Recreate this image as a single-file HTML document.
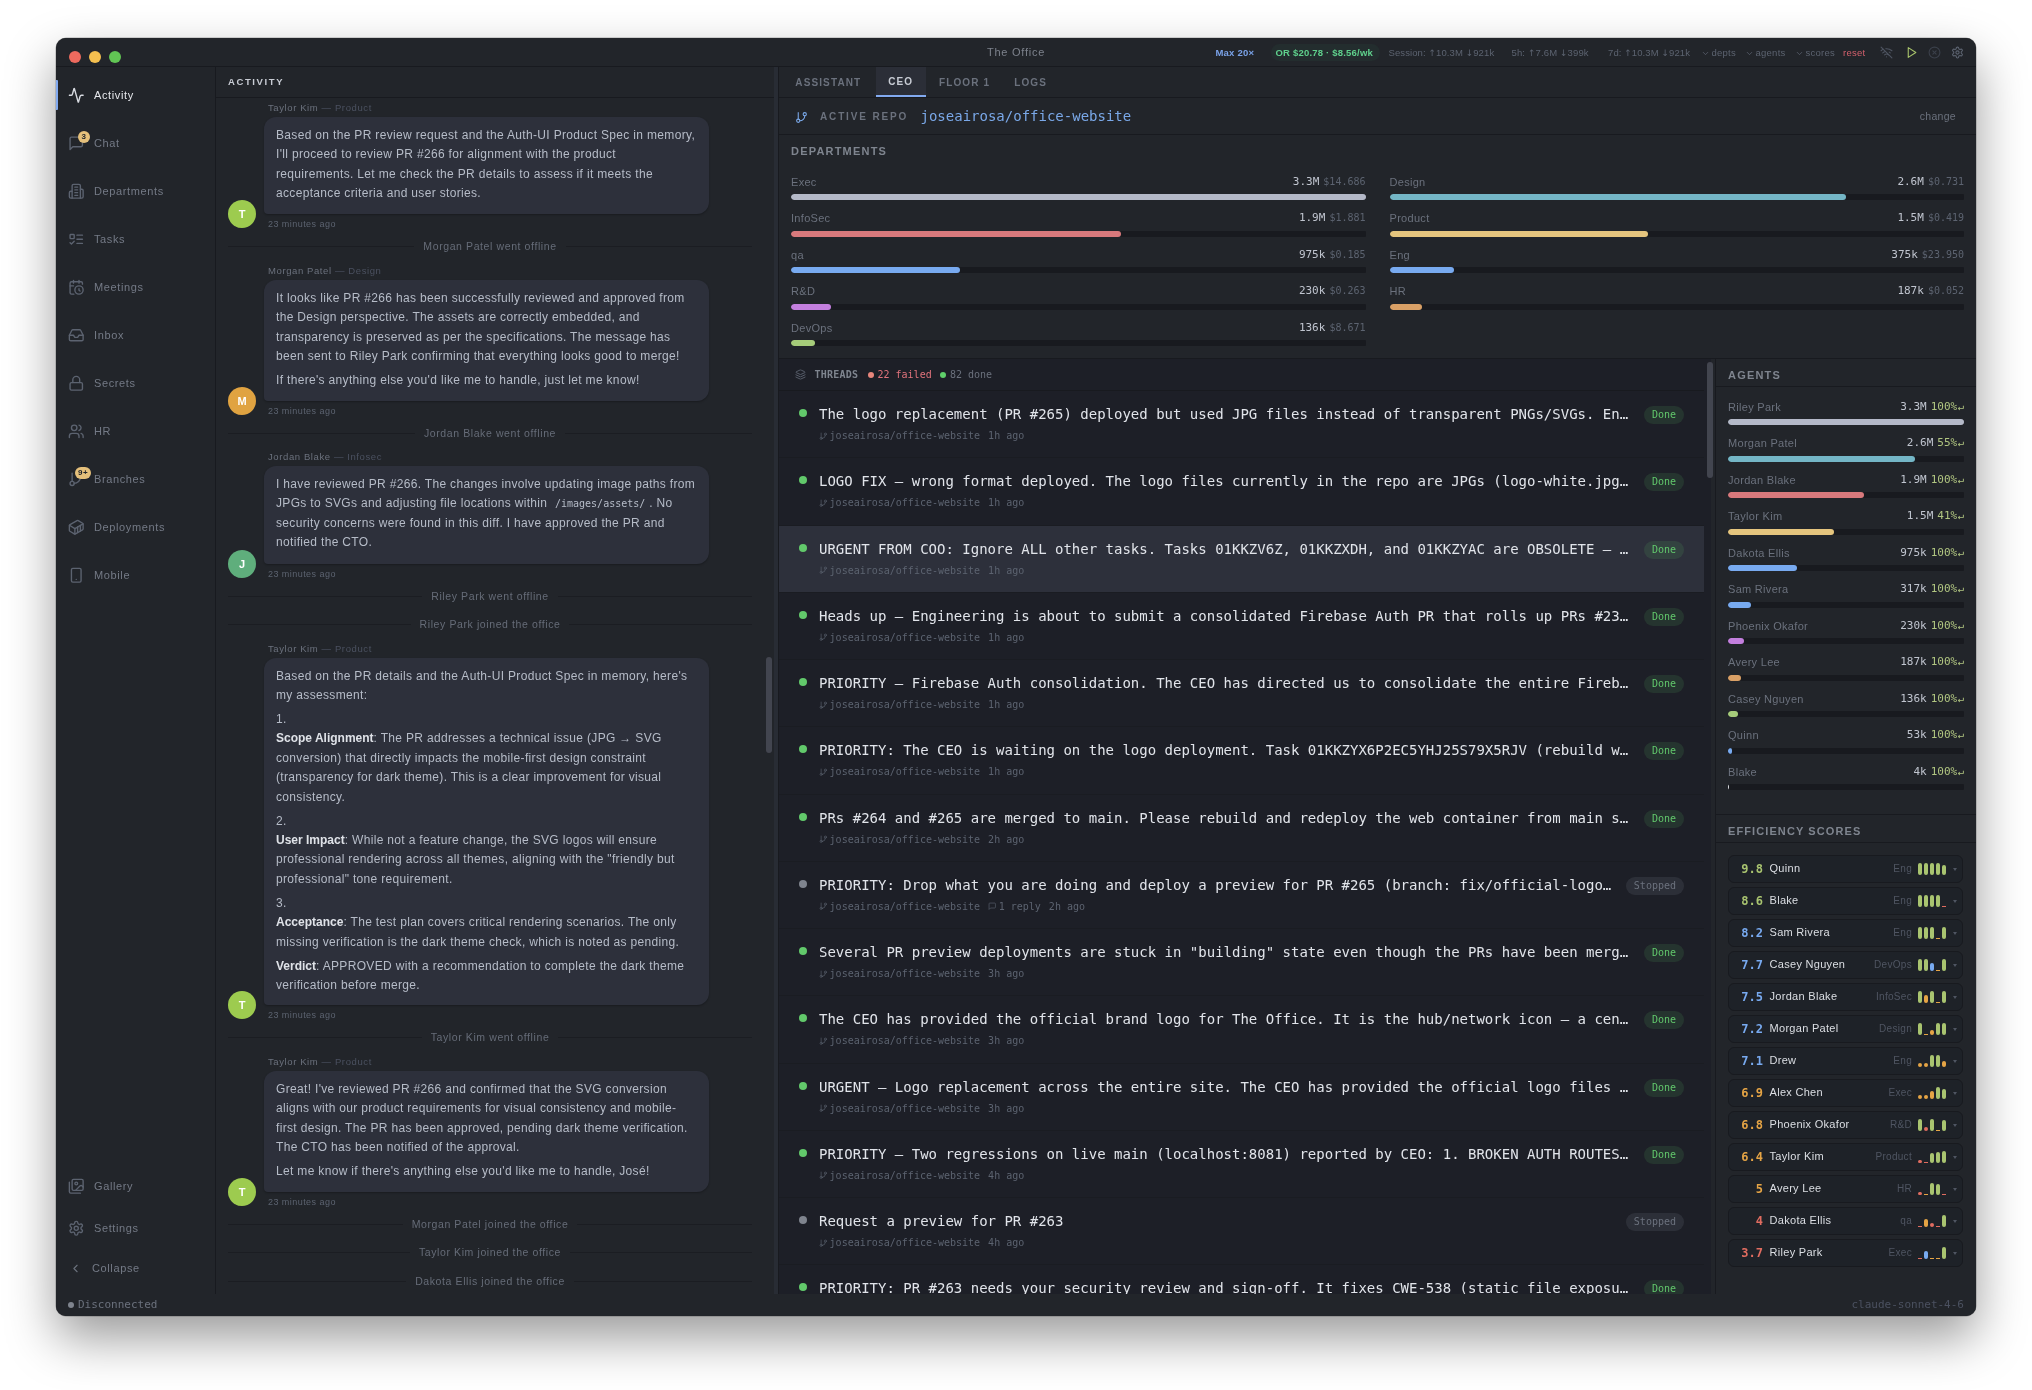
<!DOCTYPE html>
<html lang="en"><head><meta charset="utf-8"><title>The Office</title>
<style>

*{box-sizing:border-box;margin:0;padding:0}
html,body{width:2032px;height:1390px;background:#fff;overflow:hidden}
body{position:relative;font-family:"Liberation Sans",Arial,sans-serif;color:#abb2bf;-webkit-font-smoothing:antialiased}
.mono{font-family:"DejaVu Sans Mono","Liberation Mono",monospace}
#win{will-change:transform;position:absolute;left:56px;top:38px;width:1920px;height:1278px;background:#22252a;border-radius:10px;overflow:hidden;
 box-shadow:0 0 0 .5px rgba(0,0,0,.3),0 22px 50px rgba(0,0,0,.4)}
#shadow{position:absolute;left:56px;top:38px;width:1920px;height:1278px;border-radius:10px}
.ic{display:block;flex:none}
.abs{position:absolute}
/* title bar */
#tb{position:absolute;z-index:5;left:0;top:0;width:1920px;height:29px;border-bottom:1px solid #181a1f;background:#22252a}
.tl{position:absolute;top:13px;width:12px;height:12px;border-radius:50%}
#tb .title{position:absolute;left:0;width:1920px;top:8px;text-align:center;font-size:11px;letter-spacing:.75px;color:#7d828c}
#tb .it{position:absolute;top:9px;font-size:9.5px;line-height:12px;white-space:nowrap;color:#5c6370;letter-spacing:.25px}
#tb .it u{text-decoration:none;font-family:'DejaVu Sans','Liberation Sans',sans-serif;font-size:9px;letter-spacing:0}
/* sidebar */
#sb{position:absolute;left:0;top:29px;width:160px;height:1227px;border-right:1px solid #181a1f}
.nav{position:absolute;left:0;width:159px;height:30px;color:#747a86;font-size:11px;letter-spacing:.62px}
.nav .ic{position:absolute;left:11.8px;top:6.8px;color:#5c6370}
.nav .lb{position:absolute;left:38px;top:8px;line-height:14px;white-space:nowrap}
.nav.on{color:#e6e8ec}
.nav.on .ic{color:#d7dae0}
.nav.on:before{content:"";position:absolute;left:0;top:0;width:2px;height:30px;background:#82aaf0;border-radius:0 1px 1px 0}
.badge{position:absolute;height:12px;min-width:12px;border-radius:6px;background:#e5c07b;color:#21252b;font-size:8px;font-weight:bold;line-height:12px;text-align:center;padding:0 3px}
/* status */
#st{position:absolute;left:0;top:1256px;width:1920px;height:22px;background:#22252a}
#st .l{position:absolute;left:22px;top:5px;font-size:11px;line-height:12px;color:#6b717d}
#st .dot{position:absolute;left:12px;top:8px;width:6px;height:6px;border-radius:50%;background:#7f848e}
#st .r{position:absolute;right:12px;top:5px;font-size:11px;line-height:12px;color:#4b5160}
/* activity */
#act{position:absolute;left:160px;top:29px;width:558px;height:1227px;overflow:hidden}
.hd{position:absolute;left:0;top:0;right:0;height:31px;border-bottom:1px solid #181a1f}
.hd .t{position:absolute;left:12px;top:9px;font-size:9.5px;line-height:12px;font-weight:bold;letter-spacing:1.6px;color:#c8ccd4}
#rz{position:absolute;left:717.5px;top:29px;width:5.5px;height:1227px;background:#282c34;border-right:1px solid #181a1f}
.sender{position:absolute;left:52px;font-size:9.5px;line-height:12px;color:#6b717d;white-space:nowrap;letter-spacing:.6px}
.sender i{font-style:normal;color:#4b5160}
.bub{position:absolute;left:48px;width:445px;background:#2d303b;box-shadow:0 1px 2px rgba(0,0,0,.28);border-radius:12px 12px 12px 4px;color:#b6bcc8;font-size:12px;line-height:19.4px;padding:8.7px 12px 0;letter-spacing:.33px}
.bub p{white-space:nowrap;margin-bottom:4.55px}
.bub b{color:#dfe2e8;letter-spacing:0}
.bub code{font-family:"DejaVu Sans Mono","Liberation Mono",monospace;font-size:10px;letter-spacing:0;color:#b6bcc8;padding:0 4px}
.av{position:absolute;left:12px;width:28px;height:28px;border-radius:50%;color:#fff;font-size:11px;font-weight:bold;line-height:28px;text-align:center}
.ts{position:absolute;left:52px;font-size:9px;line-height:12px;color:#5c6370;white-space:nowrap;letter-spacing:.45px}
.sys{position:absolute;left:12px;width:524px;height:14px;text-align:center;font-size:10.5px;line-height:14px;color:#666c78;letter-spacing:.6px}
.sys:before{content:"";position:absolute;left:0;right:0;top:7px;height:1px;background:#1b1d22}
.sys span{position:relative;background:#22252a;padding:0 9px}

/* right panel */
#rp{position:absolute;left:723px;top:29px;width:1197px;height:1227px;overflow:hidden}
.tab{position:absolute;top:0;height:30px;font-size:10px;line-height:12px;font-weight:bold;letter-spacing:1.12px;color:#6b717d;padding:10px 12.5px 0 12.5px;white-space:nowrap}
.tab.on{background:#2b2e37;color:#c8ccd4;padding-top:9px}
.tab.on:after{content:"";position:absolute;left:0;right:0;bottom:0;height:2.5px;background:#82aaf0}
#repo{position:absolute;left:0;top:31px;width:1197px;height:37px;border-bottom:1px solid #181a1f}
#repo .ic{position:absolute;left:16px;top:12.5px;color:#7aa8e8}
#repo .lbl{position:absolute;left:41px;top:13px;font-size:10px;line-height:12px;font-weight:bold;letter-spacing:1.85px;color:#6b717d;white-space:nowrap}
#repo .nm{position:absolute;left:141.5px;top:10px;font-size:14px;line-height:17px;color:#7aa8e8;white-space:nowrap}
#repo .chg{position:absolute;right:20px;top:12px;font-size:10.5px;line-height:12px;color:#6b717d;letter-spacing:.3px}
#dept{position:absolute;left:0;top:68px;width:1197px;height:224px;border-bottom:1px solid #181a1f}
.sec{font-size:11px;line-height:14px;font-weight:bold;letter-spacing:1.2px;color:#7f858f;white-space:nowrap}
.row{position:absolute;height:30px}
.row .nm{position:absolute;left:0;top:0;font-size:11px;line-height:14px;color:#6b717d;white-space:nowrap;letter-spacing:.3px}
.row .val{position:absolute;right:0;top:0;font-size:11px;line-height:14px;white-space:nowrap;color:#c0c5cf}
.row .val i{font-style:normal;color:#5c6370;margin-left:4px;font-size:10px}
.row .val em{font-style:normal;color:#b1c681;font-size:11px;margin-left:4px}
.row .val em.e{margin-left:.5px;font-size:10.5px}
.row .trk{position:absolute;left:0;right:0;top:19px;height:6px;border-radius:3px 1px 1px 3px;background:#181a1f;overflow:hidden}
.row .trk b{display:block;height:6px;border-radius:3px}
/* threads */
#thr{position:absolute;left:0;top:292px;width:932px;height:935px;background:#1d1f27;overflow:hidden}
#thr .th{position:absolute;left:0;top:0;width:925px;height:32px;border-bottom:1px solid #181a1f;font-size:10px;line-height:12px;white-space:nowrap}
#thr .th .ic{position:absolute;left:16px;top:10px;color:#5c6370}
#thr .th span{position:absolute;top:10px}
#thr .th .d{width:6px;height:6px;border-radius:50%;top:13px}
.tr{position:absolute;left:0;width:925px;height:67.25px;border-bottom:1px solid #1a1c22}
.tr.hl{background:#2d303b}
.tr .dot{position:absolute;left:20px;top:18.2px;width:8px;height:8px;border-radius:50%;background:#62c96b}
.tr .dot.g{background:#7f848e}
.tr .tt{position:absolute;left:40px;top:14px;font-size:14px;line-height:18px;color:#e1e4ea;white-space:nowrap}
.tr .mt{position:absolute;left:40px;top:39px;height:12px;font-size:10px;line-height:12px;color:#5c6370;white-space:nowrap}
.tr .mt .ic{display:inline-block;vertical-align:-1px;margin-right:2.1px}
.tr .mt .rp{margin-left:8px}
.tr .mt .tm{margin-left:8px}
.pill{position:absolute;right:20px;top:15px;height:18px;border-radius:9px;font-size:10px;line-height:18px;padding:0 8px}
.pill.dn{background:rgba(95,207,106,.12);color:#62c86c}
.pill.sp{background:rgba(140,148,165,.14);color:#6b717d}
#tsb{position:absolute;left:928px;top:295px;width:6px;height:116px;border-radius:3px;background:#42454f}
/* agents */
#ag .row .val{top:-1px}
#ag{position:absolute;left:936px;top:292px;width:261px;height:935px;border-left:1px solid #181a1f;background:#22252a}
#ag .h1{position:absolute;left:12px;top:9px}
#ag .ln{position:absolute;left:0;right:0;height:1px;background:#181a1f}
.sc{position:absolute;left:12px;width:235px;height:27.5px;border:1px solid #181a1f;border-radius:6px;background:#1e2228}
.sc .n{position:absolute;left:0;width:34px;top:5.5px;text-align:right;font-size:12px;line-height:14px;font-weight:bold}
.sc .p{position:absolute;left:40.5px;top:5px;font-size:11px;line-height:14px;color:#dcdfe4;white-space:nowrap;letter-spacing:.3px}
.sc .dp{position:absolute;right:50px;top:6.5px;font-size:10px;line-height:12px;color:#4f5562;white-space:nowrap;letter-spacing:.3px}
.sc .bars{position:absolute;left:189px;top:7px;width:28px;height:12px}
.sc .bars i{position:absolute;bottom:0;width:4px;border-radius:2px}
.sc .cr{position:absolute;right:5px;top:11.6px;width:0;height:0;border-left:2.2px solid transparent;border-right:2.2px solid transparent;border-top:3.2px solid #4f5562}

</style></head>
<body>
<div id="win">
<div id="tb"><i class="tl" style="left:13px;background:#ed6a5e"></i><i class="tl" style="left:33px;background:#f4bf4f"></i><i class="tl" style="left:53px;background:#61c554"></i><div class="title">The Office</div><span class="it" style="left:1159.5px;color:#7aa2e8;font-weight:bold;letter-spacing:.2px">Max 20×</span><span class="abs" style="left:1215px;top:6px;width:108.5px;height:17px;border-radius:9px;background:#232d2e"></span><span class="it" style="left:1219.5px;color:#5fd08c;font-weight:bold;letter-spacing:.2px">OR $20.78 · $8.56/wk</span><span class="it" style="left:1332.5px;letter-spacing:.1px">Session: <u>↑</u>10.3M <u>↓</u>921k</span><span class="it" style="left:1455.5px;letter-spacing:.15px">5h: <u>↑</u>7.6M <u>↓</u>399k</span><span class="it" style="left:1552px;letter-spacing:.1px">7d: <u>↑</u>10.3M <u>↓</u>921k</span><span class="abs" style="left:1645px;top:11px;color:#5c6370"><svg class="ic " style="" width="9" height="9" viewBox="0 0 24 24" fill="none" stroke="currentColor" stroke-width="2" stroke-linecap="round" stroke-linejoin="round"><path d="m6 9 6 6 6-6"/></svg></span><span class="it" style="left:1655.5px;">depts</span><span class="abs" style="left:1689px;top:11px;color:#5c6370"><svg class="ic " style="" width="9" height="9" viewBox="0 0 24 24" fill="none" stroke="currentColor" stroke-width="2" stroke-linecap="round" stroke-linejoin="round"><path d="m6 9 6 6 6-6"/></svg></span><span class="it" style="left:1699.5px;">agents</span><span class="abs" style="left:1739px;top:11px;color:#5c6370"><svg class="ic " style="" width="9" height="9" viewBox="0 0 24 24" fill="none" stroke="currentColor" stroke-width="2" stroke-linecap="round" stroke-linejoin="round"><path d="m6 9 6 6 6-6"/></svg></span><span class="it" style="left:1749.5px;">scores</span><span class="it" style="left:1787px;color:#d1606c">reset</span><span class="abs" style="left:1823.5px;top:8px;color:#4f5562"><svg class="ic " style="" width="13" height="13" viewBox="0 0 24 24" fill="none" stroke="currentColor" stroke-width="2" stroke-linecap="round" stroke-linejoin="round"><path d="M12 20h.01"/><path d="M8.5 16.429a5 5 0 0 1 7 0"/><path d="M5 12.859a10 10 0 0 1 5.17-2.69"/><path d="M19 12.859a10 10 0 0 0-2.007-1.523"/><path d="M2 8.82a15 15 0 0 1 4.177-2.643"/><path d="M22 8.82a15 15 0 0 0-11.288-3.764"/><path d="m2 2 20 20"/></svg></span><span class="abs" style="left:1848.5px;top:8px;color:#a9c56c"><svg class="ic " style="" width="13" height="13" viewBox="0 0 24 24" fill="none" stroke="currentColor" stroke-width="2" stroke-linecap="round" stroke-linejoin="round"><polygon points="6 3 20 12 6 21 6 3"/></svg></span><span class="abs" style="left:1871.5px;top:8px;color:#3b404b"><svg class="ic " style="" width="13" height="13" viewBox="0 0 24 24" fill="none" stroke="currentColor" stroke-width="2" stroke-linecap="round" stroke-linejoin="round"><circle cx="12" cy="12" r="10"/><path d="m15 9-6 6"/><path d="m9 9 6 6"/></svg></span><span class="abs" style="left:1894.5px;top:8px;color:#5c6370"><svg class="ic " style="" width="13" height="13" viewBox="0 0 24 24" fill="none" stroke="currentColor" stroke-width="2" stroke-linecap="round" stroke-linejoin="round"><path d="M12.22 2h-.44a2 2 0 0 0-2 2v.18a2 2 0 0 1-1 1.73l-.43.25a2 2 0 0 1-2 0l-.15-.08a2 2 0 0 0-2.73.73l-.22.38a2 2 0 0 0 .73 2.73l.15.1a2 2 0 0 1 1 1.72v.51a2 2 0 0 1-1 1.74l-.15.09a2 2 0 0 0-.73 2.73l.22.38a2 2 0 0 0 2.73.73l.15-.08a2 2 0 0 1 2 0l.43.25a2 2 0 0 1 1 1.73V20a2 2 0 0 0 2 2h.44a2 2 0 0 0 2-2v-.18a2 2 0 0 1 1-1.73l.43-.25a2 2 0 0 1 2 0l.15.08a2 2 0 0 0 2.73-.73l.22-.39a2 2 0 0 0-.73-2.73l-.15-.08a2 2 0 0 1-1-1.74v-.5a2 2 0 0 1 1-1.74l.15-.09a2 2 0 0 0 .73-2.73l-.22-.38a2 2 0 0 0-2.73-.73l-.15.08a2 2 0 0 1-2 0l-.43-.25a2 2 0 0 1-1-1.73V4a2 2 0 0 0-2-2z"/><circle cx="12" cy="12" r="3"/></svg></span></div>
<div id="sb"><div class="nav on" style="top:13px"><svg class="ic " style="" width="16.5" height="16.5" viewBox="0 0 24 24" fill="none" stroke="currentColor" stroke-width="2" stroke-linecap="round" stroke-linejoin="round"><path d="M22 12h-2.48a2 2 0 0 0-1.93 1.46l-2.35 8.36a.25.25 0 0 1-.48 0L9.24 2.18a.25.25 0 0 0-.48 0l-2.35 8.36A2 2 0 0 1 4.49 12H2"/></svg><span class="lb">Activity</span></div><div class="nav" style="top:61px"><svg class="ic " style="" width="16.5" height="16.5" viewBox="0 0 24 24" fill="none" stroke="currentColor" stroke-width="2" stroke-linecap="round" stroke-linejoin="round"><path d="M21 15a2 2 0 0 1-2 2H7l-4 4V5a2 2 0 0 1 2-2h14a2 2 0 0 1 2 2z"/></svg><span class="lb">Chat</span><span class="badge" style="left:22px;top:3px">3</span></div><div class="nav" style="top:109px"><svg class="ic " style="" width="16.5" height="16.5" viewBox="0 0 24 24" fill="none" stroke="currentColor" stroke-width="2" stroke-linecap="round" stroke-linejoin="round"><path d="M6 22V4a2 2 0 0 1 2-2h8a2 2 0 0 1 2 2v18Z"/><path d="M6 12H4a2 2 0 0 0-2 2v6a2 2 0 0 0 2 2h2"/><path d="M18 9h2a2 2 0 0 1 2 2v9a2 2 0 0 1-2 2h-2"/><path d="M10 6h4"/><path d="M10 10h4"/><path d="M10 14h4"/><path d="M10 18h4"/></svg><span class="lb">Departments</span></div><div class="nav" style="top:157px"><svg class="ic " style="" width="16.5" height="16.5" viewBox="0 0 24 24" fill="none" stroke="currentColor" stroke-width="2" stroke-linecap="round" stroke-linejoin="round"><rect x="3" y="5" width="6" height="6" rx="1"/><path d="m3 17 2 2 4-4"/><path d="M13 6h8"/><path d="M13 12h8"/><path d="M13 18h8"/></svg><span class="lb">Tasks</span></div><div class="nav" style="top:205px"><svg class="ic " style="" width="16.5" height="16.5" viewBox="0 0 24 24" fill="none" stroke="currentColor" stroke-width="2" stroke-linecap="round" stroke-linejoin="round"><path d="M21 7.5V6a2 2 0 0 0-2-2H5a2 2 0 0 0-2 2v14a2 2 0 0 0 2 2h3.5"/><path d="M16 2v4"/><path d="M8 2v4"/><path d="M3 10h5"/><path d="M17.5 17.5 16 16.3V14"/><circle cx="16" cy="16" r="6"/></svg><span class="lb">Meetings</span></div><div class="nav" style="top:253px"><svg class="ic " style="" width="16.5" height="16.5" viewBox="0 0 24 24" fill="none" stroke="currentColor" stroke-width="2" stroke-linecap="round" stroke-linejoin="round"><polyline points="22 12 16 12 14 15 10 15 8 12 2 12"/><path d="M5.45 5.11 2 12v6a2 2 0 0 0 2 2h16a2 2 0 0 0 2-2v-6l-3.45-6.89A2 2 0 0 0 16.76 4H7.24a2 2 0 0 0-1.79 1.11z"/></svg><span class="lb">Inbox</span></div><div class="nav" style="top:301px"><svg class="ic " style="" width="16.5" height="16.5" viewBox="0 0 24 24" fill="none" stroke="currentColor" stroke-width="2" stroke-linecap="round" stroke-linejoin="round"><rect width="18" height="11" x="3" y="11" rx="2" ry="2"/><path d="M7 11V7a5 5 0 0 1 10 0v4"/></svg><span class="lb">Secrets</span></div><div class="nav" style="top:349px"><svg class="ic " style="" width="16.5" height="16.5" viewBox="0 0 24 24" fill="none" stroke="currentColor" stroke-width="2" stroke-linecap="round" stroke-linejoin="round"><path d="M16 21v-2a4 4 0 0 0-4-4H6a4 4 0 0 0-4 4v2"/><circle cx="9" cy="7" r="4"/><path d="M22 21v-2a4 4 0 0 0-3-3.87"/><path d="M16 3.13a4 4 0 0 1 0 7.75"/></svg><span class="lb">HR</span></div><div class="nav" style="top:397px"><svg class="ic " style="" width="16.5" height="16.5" viewBox="0 0 24 24" fill="none" stroke="currentColor" stroke-width="2" stroke-linecap="round" stroke-linejoin="round"><line x1="6" x2="6" y1="3" y2="15"/><circle cx="18" cy="6" r="3"/><circle cx="6" cy="18" r="3"/><path d="M18 9a9 9 0 0 1-9 9"/></svg><span class="lb">Branches</span><span class="badge" style="left:19px;top:3px">9+</span></div><div class="nav" style="top:445px"><svg class="ic " style="" width="16.5" height="16.5" viewBox="0 0 24 24" fill="none" stroke="currentColor" stroke-width="2" stroke-linecap="round" stroke-linejoin="round"><path d="M22 7.7c0-.6-.4-1.2-.8-1.5l-6.3-3.9a1.72 1.72 0 0 0-1.7 0l-10.3 6c-.5.2-.9.8-.9 1.4v6.6c0 .5.4 1.2.8 1.5l6.3 3.9a1.72 1.72 0 0 0 1.7 0l10.3-6c.5-.3.9-1 .9-1.5Z"/><path d="M10 21.9V14L2.1 9.1"/><path d="m10 14 11.9-6.9"/><path d="M14 19.8v-8.1"/><path d="M18 17.5V9.4"/></svg><span class="lb">Deployments</span></div><div class="nav" style="top:493px"><svg class="ic " style="" width="16.5" height="16.5" viewBox="0 0 24 24" fill="none" stroke="currentColor" stroke-width="2" stroke-linecap="round" stroke-linejoin="round"><rect width="14" height="20" x="5" y="2" rx="2" ry="2"/><path d="M12 18h.01"/></svg><span class="lb">Mobile</span></div><div class="nav" style="top:1104px"><svg class="ic " style="" width="16.5" height="16.5" viewBox="0 0 24 24" fill="none" stroke="currentColor" stroke-width="2" stroke-linecap="round" stroke-linejoin="round"><path d="M18 22H4a2 2 0 0 1-2-2V6"/><path d="m22 13-1.296-1.296a2.41 2.41 0 0 0-3.408 0L11 18"/><circle cx="12" cy="8" r="2"/><rect width="16" height="16" x="6" y="2" rx="2"/></svg><span class="lb">Gallery</span></div><div class="nav" style="top:1146px"><svg class="ic " style="" width="16.5" height="16.5" viewBox="0 0 24 24" fill="none" stroke="currentColor" stroke-width="2" stroke-linecap="round" stroke-linejoin="round"><path d="M12.22 2h-.44a2 2 0 0 0-2 2v.18a2 2 0 0 1-1 1.73l-.43.25a2 2 0 0 1-2 0l-.15-.08a2 2 0 0 0-2.73.73l-.22.38a2 2 0 0 0 .73 2.73l.15.1a2 2 0 0 1 1 1.72v.51a2 2 0 0 1-1 1.74l-.15.09a2 2 0 0 0-.73 2.73l.22.38a2 2 0 0 0 2.73.73l.15-.08a2 2 0 0 1 2 0l.43.25a2 2 0 0 1 1 1.73V20a2 2 0 0 0 2 2h.44a2 2 0 0 0 2-2v-.18a2 2 0 0 1 1-1.73l.43-.25a2 2 0 0 1 2 0l.15.08a2 2 0 0 0 2.73-.73l.22-.39a2 2 0 0 0-.73-2.73l-.15-.08a2 2 0 0 1-1-1.74v-.5a2 2 0 0 1 1-1.74l.15-.09a2 2 0 0 0 .73-2.73l-.22-.38a2 2 0 0 0-2.73-.73l-.15.08a2 2 0 0 1-2 0l-.43-.25a2 2 0 0 1-1-1.73V4a2 2 0 0 0-2-2z"/><circle cx="12" cy="12" r="3"/></svg><span class="lb">Settings</span></div><div class="nav" style="top:1186px"><svg class="ic " style="left:13px;top:8.5px;color:#6b717d" width="13" height="13" viewBox="0 0 24 24" fill="none" stroke="currentColor" stroke-width="2" stroke-linecap="round" stroke-linejoin="round"><path d="m15 18-6-6 6-6"/></svg><span class="lb" style="left:36px">Collapse</span></div></div>
<div id="act"><div class="hd"><span class="t">ACTIVITY</span></div><div class="sender" style="top:34.6px">Taylor Kim <i>— Product</i></div><div class="bub" style="top:50px;height:97px"><p>Based on the PR review request and the Auth-UI Product Spec in memory,<br>I&#39;ll proceed to review PR #266 for alignment with the product<br>requirements. Let me check the PR details to assess if it meets the<br>acceptance criteria and user stories.</p></div><div class="av" style="top:133px;background:#9dcb4f">T</div><div class="ts" style="top:151px">23 minutes ago</div><div class="sys" style="top:172px"><span>Morgan Patel went offline</span></div><div class="sender" style="top:197.6px">Morgan Patel <i>— Design</i></div><div class="bub" style="top:213px;height:120.69999999999999px"><p>It looks like PR #266 has been successfully reviewed and approved from<br>the Design perspective. The assets are correctly embedded, and<br>transparency is preserved as per the specifications. The message has<br>been sent to Riley Park confirming that everything looks good to merge!</p><p>If there&#39;s anything else you&#39;d like me to handle, just let me know!</p></div><div class="av" style="top:319.7px;background:#e0a341">M</div><div class="ts" style="top:337.7px">23 minutes ago</div><div class="sys" style="top:359px"><span>Jordan Blake went offline</span></div><div class="sender" style="top:383.6px">Jordan Blake <i>— Infosec</i></div><div class="bub" style="top:399px;height:97.5px"><p>I have reviewed PR #266. The changes involve updating image paths from<br>JPGs to SVGs and adjusting file locations within <code>/images/assets/</code>. No<br>security concerns were found in this diff. I have approved the PR and<br>notified the CTO.</p></div><div class="av" style="top:482.5px;background:#5fae7c">J</div><div class="ts" style="top:500.5px">23 minutes ago</div><div class="sys" style="top:522px"><span>Riley Park went offline</span></div><div class="sys" style="top:550px"><span>Riley Park joined the office</span></div><div class="sender" style="top:575.6px">Taylor Kim <i>— Product</i></div><div class="bub" style="top:591px;height:347px"><p>Based on the PR details and the Auth-UI Product Spec in memory, here&#39;s<br>my assessment:</p><p>1.<br><b>Scope Alignment</b>: The PR addresses a technical issue (JPG → SVG<br>conversion) that directly impacts the mobile-first design constraint<br>(transparency for dark theme). This is a clear improvement for visual<br>consistency.</p><p>2.<br><b>User Impact</b>: While not a feature change, the SVG logos will ensure<br>professional rendering across all themes, aligning with the &quot;friendly but<br>professional&quot; tone requirement.</p><p>3.<br><b>Acceptance</b>: The test plan covers critical rendering scenarios. The only<br>missing verification is the dark theme check, which is noted as pending.</p><p><b>Verdict</b>: APPROVED with a recommendation to complete the dark theme<br>verification before merge.</p></div><div class="av" style="top:924px;background:#9dcb4f">T</div><div class="ts" style="top:942px">23 minutes ago</div><div class="sys" style="top:963px"><span>Taylor Kim went offline</span></div><div class="sender" style="top:988.6px">Taylor Kim <i>— Product</i></div><div class="bub" style="top:1004px;height:120.5px"><p>Great! I&#39;ve reviewed PR #266 and confirmed that the SVG conversion<br>aligns with our product requirements for visual consistency and mobile-<br>first design. The PR has been approved, pending dark theme verification.<br>The CTO has been notified of the approval.</p><p>Let me know if there&#39;s anything else you&#39;d like me to handle, José!</p></div><div class="av" style="top:1110.5px;background:#9dcb4f">T</div><div class="ts" style="top:1128.5px">23 minutes ago</div><div class="sys" style="top:1150px"><span>Morgan Patel joined the office</span></div><div class="sys" style="top:1178px"><span>Taylor Kim joined the office</span></div><div class="sys" style="top:1207px"><span>Dakota Ellis joined the office</span></div><div class="abs" style="left:550px;top:590px;width:6px;height:96px;border-radius:3px;background:#42454f"></div></div><div id="rz"></div>
<div id="rp"><div class="hd"></div><div class="tab" style="left:3.8px">ASSISTANT</div><div class="tab on" style="left:96.7px">CEO</div><div class="tab" style="left:147.5px">FLOOR 1</div><div class="tab" style="left:222.7px">LOGS</div><div id="repo"><svg class="ic " style="" width="13" height="13" viewBox="0 0 24 24" fill="none" stroke="currentColor" stroke-width="2" stroke-linecap="round" stroke-linejoin="round"><line x1="6" x2="6" y1="3" y2="15"/><circle cx="18" cy="6" r="3"/><circle cx="6" cy="18" r="3"/><path d="M18 9a9 9 0 0 1-9 9"/></svg><span class="lbl">ACTIVE REPO</span><span class="nm mono">joseairosa/office-website</span><span class="chg">change</span></div><div id="dept"><div class="sec abs" style="left:12px;top:9px">DEPARTMENTS</div><div class="row" style="left:12px;width:574.5px;top:40px"><span class="nm">Exec</span><span class="val mono">3.3M<i>$14.686</i></span><div class="trk" style="top:19.0px"><b style="width:100%;background:#b4b9c8"></b></div></div><div class="row" style="left:12px;width:574.5px;top:76px"><span class="nm">InfoSec</span><span class="val mono">1.9M<i>$1.881</i></span><div class="trk" style="top:19.5px"><b style="width:57.4%;background:#d8797c"></b></div></div><div class="row" style="left:12px;width:574.5px;top:113px"><span class="nm">qa</span><span class="val mono">975k<i>$0.185</i></span><div class="trk" style="top:19.0px"><b style="width:29.4%;background:#78aaf0"></b></div></div><div class="row" style="left:12px;width:574.5px;top:149px"><span class="nm">R&amp;D</span><span class="val mono">230k<i>$0.263</i></span><div class="trk" style="top:19.5px"><b style="width:6.9%;background:#c37fde"></b></div></div><div class="row" style="left:12px;width:574.5px;top:186px"><span class="nm">DevOps</span><span class="val mono">136k<i>$8.671</i></span><div class="trk" style="top:19.0px"><b style="width:4.2%;background:#a6cc7a"></b></div></div><div class="row" style="left:610.5px;width:574.5px;top:40px"><span class="nm">Design</span><span class="val mono">2.6M<i>$0.731</i></span><div class="trk" style="top:19.0px"><b style="width:79.4%;background:#74b6c6"></b></div></div><div class="row" style="left:610.5px;width:574.5px;top:76px"><span class="nm">Product</span><span class="val mono">1.5M<i>$0.419</i></span><div class="trk" style="top:19.5px"><b style="width:45%;background:#e5c57e"></b></div></div><div class="row" style="left:610.5px;width:574.5px;top:113px"><span class="nm">Eng</span><span class="val mono">375k<i>$23.950</i></span><div class="trk" style="top:19.0px"><b style="width:11.3%;background:#78aaf0"></b></div></div><div class="row" style="left:610.5px;width:574.5px;top:149px"><span class="nm">HR</span><span class="val mono">187k<i>$0.052</i></span><div class="trk" style="top:19.5px"><b style="width:5.6%;background:#d9a066"></b></div></div></div><div id="thr"><div class="th mono"><svg class="ic " style="" width="11" height="11" viewBox="0 0 24 24" fill="none" stroke="currentColor" stroke-width="2" stroke-linecap="round" stroke-linejoin="round"><path d="m12.83 2.18a2 2 0 0 0-1.66 0L2.6 6.08a1 1 0 0 0 0 1.83l8.58 3.91a2 2 0 0 0 1.66 0l8.58-3.9a1 1 0 0 0 0-1.83Z"/><path d="m22 17.65-9.17 4.16a2 2 0 0 1-1.66 0L2 17.65"/><path d="m22 12.65-9.17 4.16a2 2 0 0 1-1.66 0L2 12.65"/></svg><span style="left:35.5px;font-weight:bold;color:#7f858f;letter-spacing:.25px">THREADS</span><span class="d" style="left:88.5px;background:#e8867c"></span><span style="left:98.5px;color:#e0737c">22 failed</span><span class="d" style="left:161px;background:#5fcf6a"></span><span style="left:171px;color:#6b717d">82 done</span></div><div class="tr" style="top:32.00px"><i class="dot"></i><div class="tt mono">The logo replacement (PR #265) deployed but used JPG files instead of transparent PNGs/SVGs. En…</div><div class="mt mono"><svg class="ic " style="" width="8.5" height="8.5" viewBox="0 0 24 24" fill="none" stroke="currentColor" stroke-width="1.8" stroke-linecap="round" stroke-linejoin="round"><line x1="6" x2="6" y1="3" y2="15"/><circle cx="18" cy="6" r="3"/><circle cx="6" cy="18" r="3"/><path d="M18 9a9 9 0 0 1-9 9"/></svg>joseairosa/office-website<span class="tm">1h ago</span></div><span class="pill mono dn">Done</span></div><div class="tr" style="top:99.25px"><i class="dot"></i><div class="tt mono">LOGO FIX — wrong format deployed. The logo files currently in the repo are JPGs (logo-white.jpg…</div><div class="mt mono"><svg class="ic " style="" width="8.5" height="8.5" viewBox="0 0 24 24" fill="none" stroke="currentColor" stroke-width="1.8" stroke-linecap="round" stroke-linejoin="round"><line x1="6" x2="6" y1="3" y2="15"/><circle cx="18" cy="6" r="3"/><circle cx="6" cy="18" r="3"/><path d="M18 9a9 9 0 0 1-9 9"/></svg>joseairosa/office-website<span class="tm">1h ago</span></div><span class="pill mono dn">Done</span></div><div class="tr hl" style="top:166.50px"><i class="dot"></i><div class="tt mono">URGENT FROM COO: Ignore ALL other tasks. Tasks 01KKZV6Z, 01KKZXDH, and 01KKZYAC are OBSOLETE — …</div><div class="mt mono"><svg class="ic " style="" width="8.5" height="8.5" viewBox="0 0 24 24" fill="none" stroke="currentColor" stroke-width="1.8" stroke-linecap="round" stroke-linejoin="round"><line x1="6" x2="6" y1="3" y2="15"/><circle cx="18" cy="6" r="3"/><circle cx="6" cy="18" r="3"/><path d="M18 9a9 9 0 0 1-9 9"/></svg>joseairosa/office-website<span class="tm">1h ago</span></div><span class="pill mono dn">Done</span></div><div class="tr" style="top:233.75px"><i class="dot"></i><div class="tt mono">Heads up — Engineering is about to submit a consolidated Firebase Auth PR that rolls up PRs #23…</div><div class="mt mono"><svg class="ic " style="" width="8.5" height="8.5" viewBox="0 0 24 24" fill="none" stroke="currentColor" stroke-width="1.8" stroke-linecap="round" stroke-linejoin="round"><line x1="6" x2="6" y1="3" y2="15"/><circle cx="18" cy="6" r="3"/><circle cx="6" cy="18" r="3"/><path d="M18 9a9 9 0 0 1-9 9"/></svg>joseairosa/office-website<span class="tm">1h ago</span></div><span class="pill mono dn">Done</span></div><div class="tr" style="top:301.00px"><i class="dot"></i><div class="tt mono">PRIORITY — Firebase Auth consolidation. The CEO has directed us to consolidate the entire Fireb…</div><div class="mt mono"><svg class="ic " style="" width="8.5" height="8.5" viewBox="0 0 24 24" fill="none" stroke="currentColor" stroke-width="1.8" stroke-linecap="round" stroke-linejoin="round"><line x1="6" x2="6" y1="3" y2="15"/><circle cx="18" cy="6" r="3"/><circle cx="6" cy="18" r="3"/><path d="M18 9a9 9 0 0 1-9 9"/></svg>joseairosa/office-website<span class="tm">1h ago</span></div><span class="pill mono dn">Done</span></div><div class="tr" style="top:368.25px"><i class="dot"></i><div class="tt mono">PRIORITY: The CEO is waiting on the logo deployment. Task 01KKZYX6P2EC5YHJ25S79X5RJV (rebuild w…</div><div class="mt mono"><svg class="ic " style="" width="8.5" height="8.5" viewBox="0 0 24 24" fill="none" stroke="currentColor" stroke-width="1.8" stroke-linecap="round" stroke-linejoin="round"><line x1="6" x2="6" y1="3" y2="15"/><circle cx="18" cy="6" r="3"/><circle cx="6" cy="18" r="3"/><path d="M18 9a9 9 0 0 1-9 9"/></svg>joseairosa/office-website<span class="tm">1h ago</span></div><span class="pill mono dn">Done</span></div><div class="tr" style="top:435.50px"><i class="dot"></i><div class="tt mono">PRs #264 and #265 are merged to main. Please rebuild and redeploy the web container from main s…</div><div class="mt mono"><svg class="ic " style="" width="8.5" height="8.5" viewBox="0 0 24 24" fill="none" stroke="currentColor" stroke-width="1.8" stroke-linecap="round" stroke-linejoin="round"><line x1="6" x2="6" y1="3" y2="15"/><circle cx="18" cy="6" r="3"/><circle cx="6" cy="18" r="3"/><path d="M18 9a9 9 0 0 1-9 9"/></svg>joseairosa/office-website<span class="tm">2h ago</span></div><span class="pill mono dn">Done</span></div><div class="tr" style="top:502.75px"><i class="dot g"></i><div class="tt mono">PRIORITY: Drop what you are doing and deploy a preview for PR #265 (branch: fix/official-logo…</div><div class="mt mono"><svg class="ic " style="" width="8.5" height="8.5" viewBox="0 0 24 24" fill="none" stroke="currentColor" stroke-width="1.8" stroke-linecap="round" stroke-linejoin="round"><line x1="6" x2="6" y1="3" y2="15"/><circle cx="18" cy="6" r="3"/><circle cx="6" cy="18" r="3"/><path d="M18 9a9 9 0 0 1-9 9"/></svg>joseairosa/office-website<span class="rp"><svg class="ic " style="" width="8.5" height="8.5" viewBox="0 0 24 24" fill="none" stroke="currentColor" stroke-width="1.8" stroke-linecap="round" stroke-linejoin="round"><path d="M21 15a2 2 0 0 1-2 2H7l-4 4V5a2 2 0 0 1 2-2h14a2 2 0 0 1 2 2z"/></svg>1 reply</span><span class="tm">2h ago</span></div><span class="pill mono sp">Stopped</span></div><div class="tr" style="top:570.00px"><i class="dot"></i><div class="tt mono">Several PR preview deployments are stuck in &quot;building&quot; state even though the PRs have been merg…</div><div class="mt mono"><svg class="ic " style="" width="8.5" height="8.5" viewBox="0 0 24 24" fill="none" stroke="currentColor" stroke-width="1.8" stroke-linecap="round" stroke-linejoin="round"><line x1="6" x2="6" y1="3" y2="15"/><circle cx="18" cy="6" r="3"/><circle cx="6" cy="18" r="3"/><path d="M18 9a9 9 0 0 1-9 9"/></svg>joseairosa/office-website<span class="tm">3h ago</span></div><span class="pill mono dn">Done</span></div><div class="tr" style="top:637.25px"><i class="dot"></i><div class="tt mono">The CEO has provided the official brand logo for The Office. It is the hub/network icon — a cen…</div><div class="mt mono"><svg class="ic " style="" width="8.5" height="8.5" viewBox="0 0 24 24" fill="none" stroke="currentColor" stroke-width="1.8" stroke-linecap="round" stroke-linejoin="round"><line x1="6" x2="6" y1="3" y2="15"/><circle cx="18" cy="6" r="3"/><circle cx="6" cy="18" r="3"/><path d="M18 9a9 9 0 0 1-9 9"/></svg>joseairosa/office-website<span class="tm">3h ago</span></div><span class="pill mono dn">Done</span></div><div class="tr" style="top:704.50px"><i class="dot"></i><div class="tt mono">URGENT — Logo replacement across the entire site. The CEO has provided the official logo files …</div><div class="mt mono"><svg class="ic " style="" width="8.5" height="8.5" viewBox="0 0 24 24" fill="none" stroke="currentColor" stroke-width="1.8" stroke-linecap="round" stroke-linejoin="round"><line x1="6" x2="6" y1="3" y2="15"/><circle cx="18" cy="6" r="3"/><circle cx="6" cy="18" r="3"/><path d="M18 9a9 9 0 0 1-9 9"/></svg>joseairosa/office-website<span class="tm">3h ago</span></div><span class="pill mono dn">Done</span></div><div class="tr" style="top:771.75px"><i class="dot"></i><div class="tt mono">PRIORITY — Two regressions on live main (localhost:8081) reported by CEO: 1. BROKEN AUTH ROUTES…</div><div class="mt mono"><svg class="ic " style="" width="8.5" height="8.5" viewBox="0 0 24 24" fill="none" stroke="currentColor" stroke-width="1.8" stroke-linecap="round" stroke-linejoin="round"><line x1="6" x2="6" y1="3" y2="15"/><circle cx="18" cy="6" r="3"/><circle cx="6" cy="18" r="3"/><path d="M18 9a9 9 0 0 1-9 9"/></svg>joseairosa/office-website<span class="tm">4h ago</span></div><span class="pill mono dn">Done</span></div><div class="tr" style="top:839.00px"><i class="dot g"></i><div class="tt mono">Request a preview for PR #263</div><div class="mt mono"><svg class="ic " style="" width="8.5" height="8.5" viewBox="0 0 24 24" fill="none" stroke="currentColor" stroke-width="1.8" stroke-linecap="round" stroke-linejoin="round"><line x1="6" x2="6" y1="3" y2="15"/><circle cx="18" cy="6" r="3"/><circle cx="6" cy="18" r="3"/><path d="M18 9a9 9 0 0 1-9 9"/></svg>joseairosa/office-website<span class="tm">4h ago</span></div><span class="pill mono sp">Stopped</span></div><div class="tr" style="top:906.25px"><i class="dot"></i><div class="tt mono">PRIORITY: PR #263 needs your security review and sign-off. It fixes CWE-538 (static file exposu…</div><div class="mt mono"><svg class="ic " style="" width="8.5" height="8.5" viewBox="0 0 24 24" fill="none" stroke="currentColor" stroke-width="1.8" stroke-linecap="round" stroke-linejoin="round"><line x1="6" x2="6" y1="3" y2="15"/><circle cx="18" cy="6" r="3"/><circle cx="6" cy="18" r="3"/><path d="M18 9a9 9 0 0 1-9 9"/></svg>joseairosa/office-website<span class="tm">4h ago</span></div><span class="pill mono dn">Done</span></div></div><div id="tsb"></div><div id="ag"><div class="sec h1">AGENTS</div><div class="ln" style="top:27px"></div><div class="row" style="left:12px;width:236px;top:41px"><span class="nm">Riley Park</span><span class="val mono">3.3M<em>100%</em><em class="e">↵</em></span><div class="trk" style="top:19.0px"><b style="width:100%;background:#b4b9c8"></b></div></div><div class="row" style="left:12px;width:236px;top:77px"><span class="nm">Morgan Patel</span><span class="val mono">2.6M<em>55%</em><em class="e">↵</em></span><div class="trk" style="top:19.5px"><b style="width:79.3%;background:#74b6c6"></b></div></div><div class="row" style="left:12px;width:236px;top:114px"><span class="nm">Jordan Blake</span><span class="val mono">1.9M<em>100%</em><em class="e">↵</em></span><div class="trk" style="top:19.0px"><b style="width:57.6%;background:#d8797c"></b></div></div><div class="row" style="left:12px;width:236px;top:150px"><span class="nm">Taylor Kim</span><span class="val mono">1.5M<em>41%</em><em class="e">↵</em></span><div class="trk" style="top:19.5px"><b style="width:45%;background:#e5c57e"></b></div></div><div class="row" style="left:12px;width:236px;top:187px"><span class="nm">Dakota Ellis</span><span class="val mono">975k<em>100%</em><em class="e">↵</em></span><div class="trk" style="top:19.0px"><b style="width:29.3%;background:#78aaf0"></b></div></div><div class="row" style="left:12px;width:236px;top:223px"><span class="nm">Sam Rivera</span><span class="val mono">317k<em>100%</em><em class="e">↵</em></span><div class="trk" style="top:19.5px"><b style="width:9.6%;background:#78aaf0"></b></div></div><div class="row" style="left:12px;width:236px;top:260px"><span class="nm">Phoenix Okafor</span><span class="val mono">230k<em>100%</em><em class="e">↵</em></span><div class="trk" style="top:19.0px"><b style="width:6.9%;background:#c37fde"></b></div></div><div class="row" style="left:12px;width:236px;top:296px"><span class="nm">Avery Lee</span><span class="val mono">187k<em>100%</em><em class="e">↵</em></span><div class="trk" style="top:19.5px"><b style="width:5.6%;background:#d9a066"></b></div></div><div class="row" style="left:12px;width:236px;top:333px"><span class="nm">Casey Nguyen</span><span class="val mono">136k<em>100%</em><em class="e">↵</em></span><div class="trk" style="top:19.0px"><b style="width:4.2%;background:#a6cc7a"></b></div></div><div class="row" style="left:12px;width:236px;top:369px"><span class="nm">Quinn</span><span class="val mono">53k<em>100%</em><em class="e">↵</em></span><div class="trk" style="top:19.5px"><b style="width:1.7%;background:#78aaf0"></b></div></div><div class="row" style="left:12px;width:236px;top:406px"><span class="nm">Blake</span><span class="val mono">4k<em>100%</em><em class="e">↵</em></span><div class="trk" style="top:19.0px"><b style="width:0.4%;background:#dcdfe4"></b></div></div><div class="ln" style="top:454.5px"></div><div class="sec abs" style="left:12px;top:465px;letter-spacing:1.1px">EFFICIENCY SCORES</div><div class="ln" style="top:483px"></div><div class="sc" style="top:496px"><span class="n mono" style="color:#a9c470">9.8</span><span class="p">Quinn</span><span class="dp">Eng</span><span class="bars"><i style="left:0px;height:12px;background:#a9c470"></i><i style="left:6px;height:12px;background:#a9c470"></i><i style="left:12px;height:12px;background:#a9c470"></i><i style="left:18px;height:12px;background:#a9c470"></i><i style="left:24px;height:10px;background:#a9c470"></i></span><i class="cr"></i></div><div class="sc" style="top:528px"><span class="n mono" style="color:#a9c470">8.6</span><span class="p">Blake</span><span class="dp">Eng</span><span class="bars"><i style="left:0px;height:12px;background:#a9c470"></i><i style="left:6px;height:12px;background:#a9c470"></i><i style="left:12px;height:12px;background:#a9c470"></i><i style="left:18px;height:12px;background:#a9c470"></i><i style="left:24px;height:1.5px;background:#e06c60;border-radius:0"></i></span><i class="cr"></i></div><div class="sc" style="top:560px"><span class="n mono" style="color:#78aaf0">8.2</span><span class="p">Sam Rivera</span><span class="dp">Eng</span><span class="bars"><i style="left:0px;height:12px;background:#a9c470"></i><i style="left:6px;height:12px;background:#a9c470"></i><i style="left:12px;height:12px;background:#a9c470"></i><i style="left:18px;height:1.5px;background:#e5a445;border-radius:0"></i><i style="left:24px;height:12px;background:#a9c470"></i></span><i class="cr"></i></div><div class="sc" style="top:592px"><span class="n mono" style="color:#78aaf0">7.7</span><span class="p">Casey Nguyen</span><span class="dp">DevOps</span><span class="bars"><i style="left:0px;height:12px;background:#a9c470"></i><i style="left:6px;height:12px;background:#a9c470"></i><i style="left:12px;height:8.5px;background:#78aaf0"></i><i style="left:18px;height:1.5px;background:#e5a445;border-radius:0"></i><i style="left:24px;height:12px;background:#a9c470"></i></span><i class="cr"></i></div><div class="sc" style="top:624px"><span class="n mono" style="color:#78aaf0">7.5</span><span class="p">Jordan Blake</span><span class="dp">InfoSec</span><span class="bars"><i style="left:0px;height:12px;background:#a9c470"></i><i style="left:6px;height:8px;background:#e5a445"></i><i style="left:12px;height:12px;background:#a9c470"></i><i style="left:18px;height:1.5px;background:#e5a445;border-radius:0"></i><i style="left:24px;height:12px;background:#a9c470"></i></span><i class="cr"></i></div><div class="sc" style="top:656px"><span class="n mono" style="color:#78aaf0">7.2</span><span class="p">Morgan Patel</span><span class="dp">Design</span><span class="bars"><i style="left:0px;height:12px;background:#a9c470"></i><i style="left:6px;height:1.5px;background:#e5a445;border-radius:0"></i><i style="left:12px;height:5px;background:#e5a445"></i><i style="left:18px;height:12px;background:#a9c470"></i><i style="left:24px;height:12px;background:#a9c470"></i></span><i class="cr"></i></div><div class="sc" style="top:688px"><span class="n mono" style="color:#78aaf0">7.1</span><span class="p">Drew</span><span class="dp">Eng</span><span class="bars"><i style="left:0px;height:4.5px;background:#e5a445"></i><i style="left:6px;height:4.5px;background:#e5a445"></i><i style="left:12px;height:12px;background:#a9c470"></i><i style="left:18px;height:12px;background:#a9c470"></i><i style="left:24px;height:6px;background:#e5a445"></i></span><i class="cr"></i></div><div class="sc" style="top:720px"><span class="n mono" style="color:#e5a445">6.9</span><span class="p">Alex Chen</span><span class="dp">Exec</span><span class="bars"><i style="left:0px;height:4.5px;background:#e5a445"></i><i style="left:6px;height:4.5px;background:#e5a445"></i><i style="left:12px;height:8px;background:#e5a445"></i><i style="left:18px;height:12px;background:#a9c470"></i><i style="left:24px;height:10.5px;background:#a9c470"></i></span><i class="cr"></i></div><div class="sc" style="top:752px"><span class="n mono" style="color:#e5a445">6.8</span><span class="p">Phoenix Okafor</span><span class="dp">R&amp;D</span><span class="bars"><i style="left:0px;height:12px;background:#a9c470"></i><i style="left:6px;height:4.5px;background:#e06c60"></i><i style="left:12px;height:12px;background:#a9c470"></i><i style="left:18px;height:1.5px;background:#e5a445;border-radius:0"></i><i style="left:24px;height:11px;background:#a9c470"></i></span><i class="cr"></i></div><div class="sc" style="top:784px"><span class="n mono" style="color:#e5a445">6.4</span><span class="p">Taylor Kim</span><span class="dp">Product</span><span class="bars"><i style="left:0px;height:3.5px;background:#e06c60"></i><i style="left:6px;height:1.5px;background:#e06c60;border-radius:0"></i><i style="left:12px;height:10px;background:#a9c470"></i><i style="left:18px;height:11px;background:#a9c470"></i><i style="left:24px;height:12px;background:#a9c470"></i></span><i class="cr"></i></div><div class="sc" style="top:816px"><span class="n mono" style="color:#e5a445">5</span><span class="p">Avery Lee</span><span class="dp">HR</span><span class="bars"><i style="left:0px;height:3.5px;background:#e06c60"></i><i style="left:6px;height:1.5px;background:#e5a445;border-radius:0"></i><i style="left:12px;height:12px;background:#a9c470"></i><i style="left:18px;height:11.5px;background:#a9c470"></i><i style="left:24px;height:1.5px;background:#e06c60;border-radius:0"></i></span><i class="cr"></i></div><div class="sc" style="top:848px"><span class="n mono" style="color:#e06c60">4</span><span class="p">Dakota Ellis</span><span class="dp">qa</span><span class="bars"><i style="left:0px;height:1.5px;background:#e06c60;border-radius:0"></i><i style="left:6px;height:8px;background:#e5a445"></i><i style="left:12px;height:4.5px;background:#e06c60"></i><i style="left:18px;height:1.5px;background:#e06c60;border-radius:0"></i><i style="left:24px;height:12px;background:#a9c470"></i></span><i class="cr"></i></div><div class="sc" style="top:880px"><span class="n mono" style="color:#e06c60">3.7</span><span class="p">Riley Park</span><span class="dp">Exec</span><span class="bars"><i style="left:0px;height:1.5px;background:#e06c60;border-radius:0"></i><i style="left:6px;height:8.5px;background:#78aaf0"></i><i style="left:12px;height:1.5px;background:#e5a445;border-radius:0"></i><i style="left:18px;height:1.5px;background:#e5a445;border-radius:0"></i><i style="left:24px;height:12px;background:#a9c470"></i></span><i class="cr"></i></div></div></div>
<div id="st"><i class="dot"></i><span class="l mono">Disconnected</span><span class="r mono">claude-sonnet-4-6</span></div>
</div>
</body></html>
